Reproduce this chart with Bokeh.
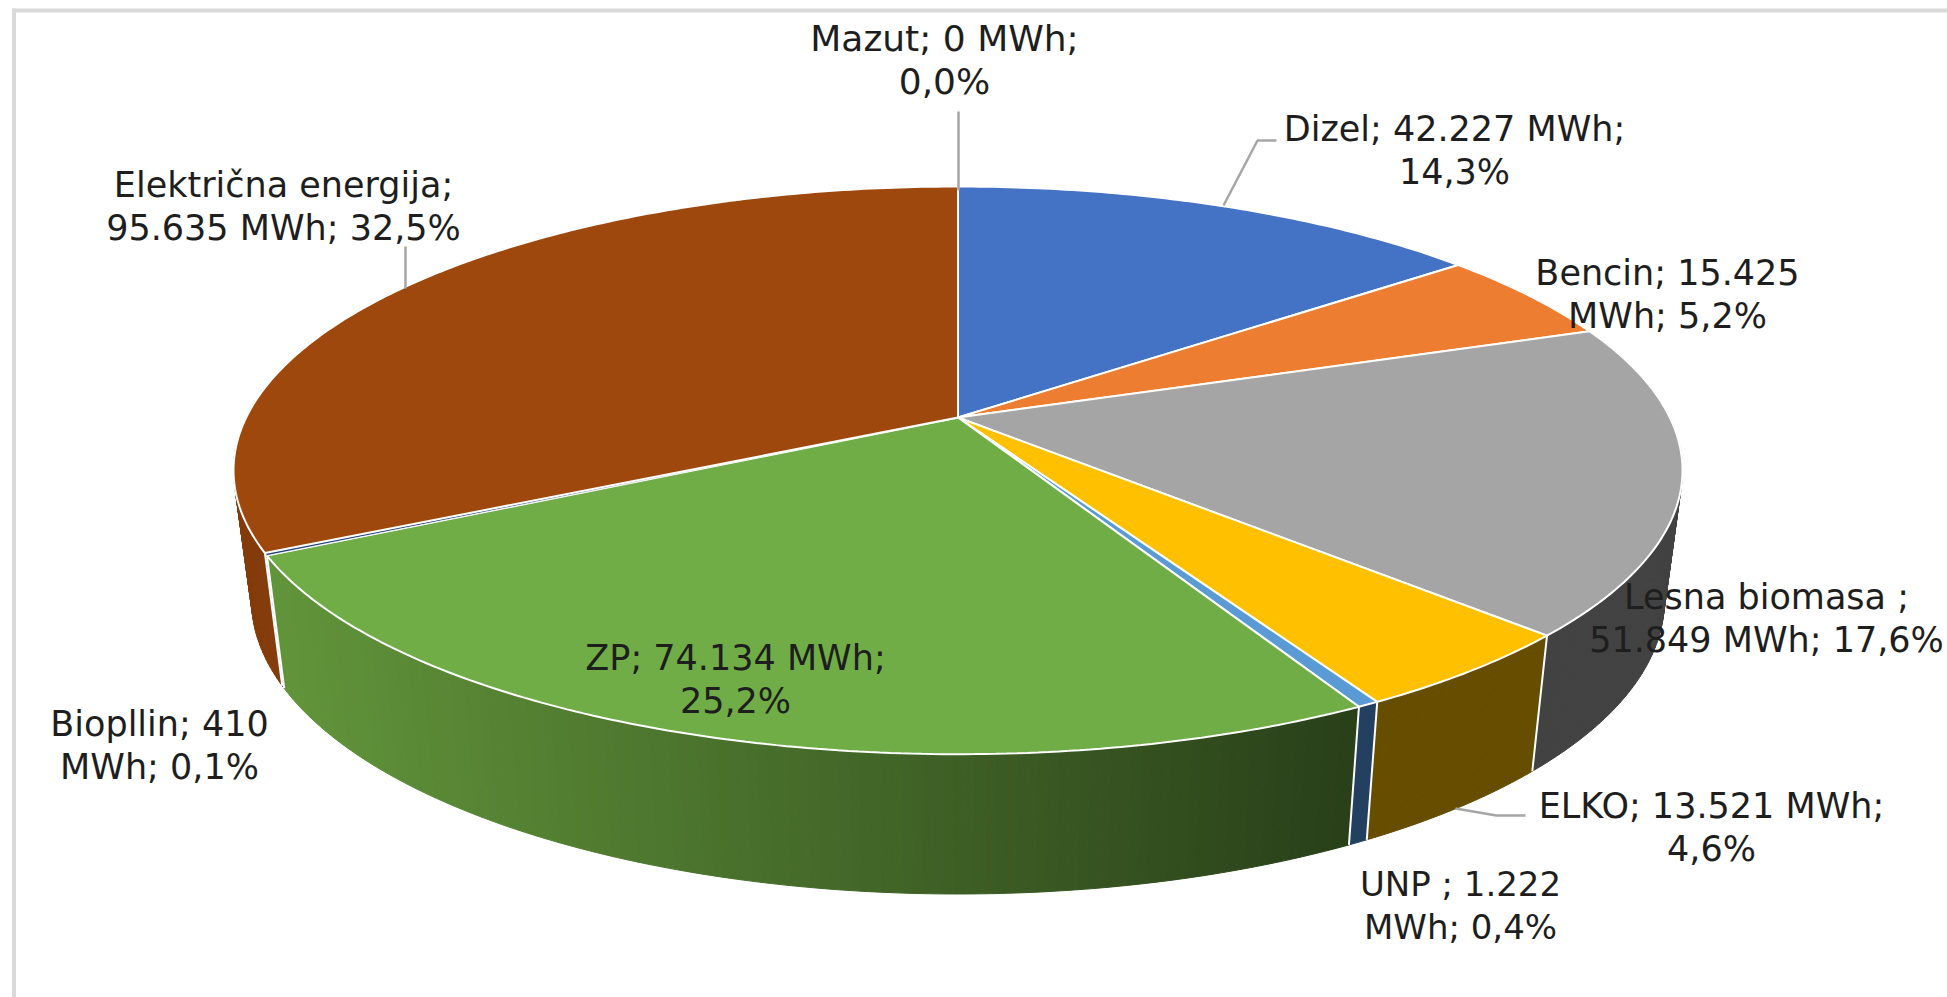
import math
from bokeh.plotting import figure
from bokeh.models import Range1d, ColumnDataSource
from bokeh.core.properties import value
from bokeh.embed import file_html
from bokeh.resources import INLINE

# ---- data (clockwise from 12 o'clock) ----
categories = ["Mazut", "Dizel", "Bencin", "Lesna biomasa", "ELKO", "UNP", "ZP", "Biopllin", "Električna energija"]
values_mwh = [0, 42227, 15425, 51849, 13521, 1222, 74134, 410, 95635]
top_colors = ["#7F6000", "#4472C4", "#ED7D31", "#A5A5A5", "#FFC000", "#5B9BD5", "#70AD47", "#264478", "#9E480E"]
side_colors = ["#4C3A00", "#294476", "#8E4B1D", "#424242", "#664D00", "#234060", None, "#172A48", "#843C0C"]

label_lines = [
    ["Mazut; 0 MWh;", "0,0%"],
    ["Dizel; 42.227 MWh;", "14,3%"],
    ["Bencin; 15.425", "MWh; 5,2%"],
    ["Lesna biomasa ;", "51.849 MWh; 17,6%"],
    ["ELKO; 13.521 MWh;", "4,6%"],
    ["UNP ; 1.222", "MWh; 0,4%"],
    ["ZP; 74.134 MWh;", "25,2%"],
    ["Biopllin; 410", "MWh; 0,1%"],
    ["Električna energija;", "95.635 MWh; 32,5%"],
]

# ---- layout, in page pixels ----
label_xy = [(944, 38), (1454, 128), (1667, 272), (1766, 596), (1711, 805), (1460, 883), (735, 657), (159, 723), (283, 184)]
label_size = [36, 35, 35, 35, 35, 34, 35, 35, 35]
LINE_GAP = 43
W, H = 1947, 997
CX, CY = 957.5, 417.0
FAR, NEAR, HALF_W = 231.0, 336.7, 724.5
C = (NEAR - FAR) / (NEAR + FAR)
A = FAR * (1 + C)
D = HALF_W * math.sqrt(1 - C * C)
BOT_SX, BOT_SY, BOT_Y0 = 0.975, 1.035, 545.0


def top_pt(t):
    x, y = math.sin(t), math.cos(t)
    k = 1 + C * y
    return CX + D * x / k, CY - A * y / k


def bot_pt(t):
    x, y = top_pt(t)
    return CX + BOT_SX * (x - CX), BOT_Y0 + BOT_SY * (y - CY)


def arc(t0, t1, step=0.012):
    n = max(2, int((t1 - t0) / step) + 1)
    return [t0 + (t1 - t0) * i / (n - 1) for i in range(n)]


def lerp_green(x):
    f = max(0.0, min(1.0, (x - 283) / (1347 - 283)))
    a, b = (97, 148, 58), (41, 64, 25)
    return "#%02x%02x%02x" % tuple(round(a[i] + (b[i] - a[i]) * f) for i in range(3))


total = sum(values_mwh)
bounds = [0.0]
for v in values_mwh:
    bounds.append(bounds[-1] + 2 * math.pi * v / total)

p = figure(width=W, height=H, x_range=Range1d(0, W), y_range=Range1d(H, 0),
           output_backend="svg", toolbar_location=None, min_border=0,
           background_fill_color="white", border_fill_color="white")
p.axis.visible = False
p.grid.visible = False
p.outline_line_color = None

# chart frame (top and left edges)
p.line([11.5, 1947], [10, 10], line_color="#d9d9d9", line_width=4)
p.line([13.5, 13.5], [8, 997], line_color="#d9d9d9", line_width=4)

# side wall, swept as narrow strips so its silhouette is the union of the strips
VIS0, VIS1 = math.radians(60), math.radians(300)
for i, col in enumerate(side_colors):
    t0, t1 = max(bounds[i], VIS0), min(bounds[i + 1], VIS1)
    if t1 <= t0:
        continue
    ts = arc(t0, t1)
    xs, ys, cs = [], [], []
    for a, b in zip(ts[:-1], ts[1:]):
        (ax, ay), (bx, by) = top_pt(a), top_pt(b)
        (cx, cy), (dx, dy) = bot_pt(b), bot_pt(a)
        xs.append([ax, bx, cx, dx])
        ys.append([ay, by, cy, dy])
        cs.append(col if col else lerp_green((ax + bx + cx + dx) / 4))
    p.patches(xs, ys, fill_color=cs, line_color=cs, line_width=1.0)

# wall separators
for b in bounds:
    if VIS0 < b < VIS1:
        x0, y0 = top_pt(b)
        x1, y1 = bot_pt(b)
        p.line([x0, x1], [y0, y1], line_color="white", line_width=2)

# top face
for i, col in enumerate(top_colors):
    t0, t1 = bounds[i], bounds[i + 1]
    if t1 <= t0:
        continue
    pts = [top_pt(s) for s in arc(t0, t1)]
    p.patch([CX] + [q[0] for q in pts], [CY] + [q[1] for q in pts],
            fill_color=col, line_color="white", line_width=2 if values_mwh[i] > 1000 else 0.8)

# leader lines
LEADERS = [
    ([958, 958], [111, 190]),
    ([1276, 1257, 1223], [140, 140, 205]),
    ([1525, 1496, 1455], [815, 815, 808]),
    ([405, 405], [246, 288]),
]
for lx, ly in LEADERS:
    p.line(lx, ly, line_color="#a6a6a6", line_width=2.5)

# labels
tx, ty, tt, ts_ = [], [], [], []
for (x, y), lines, s in zip(label_xy, label_lines, label_size):
    for k, line in enumerate(lines):
        tx.append(x)
        ty.append(y + k * LINE_GAP)
        tt.append(line)
        ts_.append(f"{s}px")
src = ColumnDataSource(dict(x=tx, y=ty, t=tt, s=ts_))
p.text("x", "y", text="t", source=src, text_font=value("DejaVu Sans"), text_font_size="s",
       text_color="#1e1e1e", text_align="center", text_baseline="middle")

open("out.html", "w").write(file_html(p, INLINE))
